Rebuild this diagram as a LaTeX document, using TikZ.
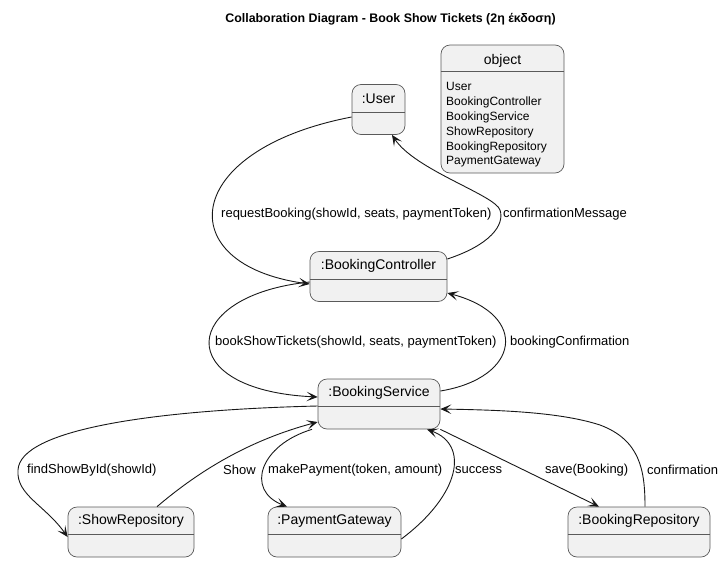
\documentclass[tikz,border=0pt]{standalone}
\usepackage{fontspec}
\setmainfont{Liberation Sans}
\usetikzlibrary{arrows.meta}
\definecolor{boxfill}{HTML}{F1F1F1}
\definecolor{boxline}{HTML}{5A5A5A}
\definecolor{ink}{HTML}{181818}
\tikzset{
  objbox/.style={draw=boxline, fill=boxfill, rounded corners=9pt, line width=0.7pt, minimum height=50pt, inner sep=0pt},
  objtitle/.style={font=\fontsize{14}{16}\selectfont, inner sep=0pt},
  divider/.style={draw=boxline, line width=0.7pt},
  conn/.style={draw=ink, line width=0.9pt, -{Stealth[length=11pt,width=9.5pt,inset=5.5pt]}},
  lbl/.style={font=\fontsize{13}{15}\selectfont, inner sep=0pt, anchor=west},
}
\newcommand{\mkobj}[5]{%
  \node[objbox, minimum width=#4pt] (#1) at (#2,#3) {};
  \node[objtitle] (#1-t) at ([yshift=-14.5pt]#1.north) {#5};
  \draw[divider] ([yshift=-28pt]#1.north west) -- ([yshift=-28pt]#1.north east);
}
\begin{document}
\begin{tikzpicture}[x=1pt,y=-1pt]
\useasboundingbox (0,0) rectangle (723,563);
% title
\node[font=\bfseries\fontsize{12.4}{14}\selectfont, inner sep=0pt] (title) at (390.5,19.5) {Collaboration Diagram - Book Show Tickets (2η έκδοση)};
% objects
\mkobj{user}{378.5}{109.5}{53}{:User}
\mkobj{ctrl}{378.5}{276.5}{137}{:BookingController}
\mkobj{svc}{379}{404}{122}{:BookingService}
\mkobj{shrepo}{131}{532}{126}{:ShowRepository}
\mkobj{pay}{334.5}{532}{133}{:PaymentGateway}
\mkobj{brepo}{639}{532}{142}{:BookingRepository}
% legend object
\node[objbox, minimum width=123pt, minimum height=128pt] (legend) at (502.5,109) {};
\node[objtitle] (legend-t) at ([yshift=-16pt]legend.north) {object};
\draw[divider] ([yshift=-27pt]legend.north west) -- ([yshift=-27pt]legend.north east);
\node[font=\fontsize{12}{14.8}\selectfont, align=left, inner sep=0pt, anchor=north west] (legend-m) at (446,82.5)
  {User\\BookingController\\BookingService\\ShowRepository\\BookingRepository\\PaymentGateway};
% connectors
\draw[conn] ([yshift=-7.5pt]user.west) .. controls (180,150) and (170,265) .. ([yshift=-7.5pt]ctrl.west);
\node[lbl] (l1) at (221,214) {requestBooking(showId, seats, paymentToken)};
\coordinate (c1) at (500,210);
\draw[conn] ([yshift=17.5pt]ctrl.east) .. controls (490,245) and (505,225) .. (c1)
  .. controls (495,195) and (415,170) .. ([xshift=13.5pt]user.south);
\node[lbl] (l2) at (503,214) {confirmationMessage};
\draw[conn] ([yshift=-5.5pt]ctrl.west) .. controls (180,295) and (170,390) .. ([yshift=7pt]svc.west);
\node[lbl] (l3) at (215,342) {bookShowTickets(showId, seats, paymentToken)};
\draw[conn] ([yshift=13pt]svc.east) .. controls (520,378) and (530,315) .. ([yshift=-16.5pt]ctrl.east);
\node[lbl] (l4) at (510,342) {bookingConfirmation};
\coordinate (c2) at (18,470);
\draw[conn] ([yshift=-2pt]svc.west) .. controls (150,410) and (20,430) .. (c2)
  .. controls (16,495) and (45,505) .. ([yshift=-5pt]shrepo.west);
\node[lbl] (l5) at (27,470) {findShowById(showId)};
\draw[conn] ([xshift=26pt]shrepo.north) .. controls (200,470) and (250,440) .. ([yshift=-18pt]svc.west);
\node[lbl] (l6) at (223,470) {Show};
\draw[conn] ([xshift=-67pt]svc.south) .. controls (260,445) and (245,490) .. ([xshift=-47.5pt]pay.north);
\node[lbl] (l7) at (268,470) {makePayment(token, amount)};
\draw[conn] ([yshift=-7pt]pay.east) .. controls (460,495) and (470,445) .. ([xshift=48pt]svc.south);
\node[lbl] (l8) at (455,470) {success};
\draw[conn] (svc.south east) -- ([xshift=-40pt]brepo.north);
\node[lbl] (l9) at (545,470) {save(Booking)};
\coordinate (c3) at (600,425);
\draw[conn] ([xshift=6pt]brepo.north) .. controls (645,470) and (640,440) .. (c3)
  .. controls (560,412) and (500,410) .. ([yshift=-5pt]svc.east);
\node[lbl] (l10) at (647,470) {confirmation};
\end{tikzpicture}
\end{document}
